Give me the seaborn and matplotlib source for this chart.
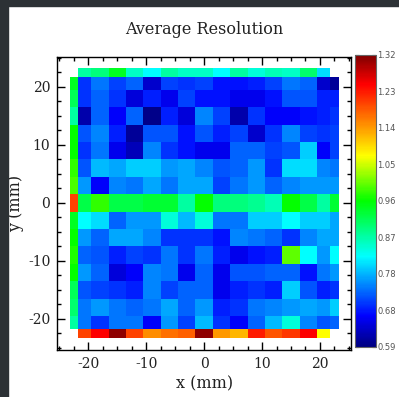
import numpy as np
import matplotlib
matplotlib.use("Agg")
import matplotlib.pyplot as plt
from matplotlib.colors import LinearSegmentedColormap
from matplotlib.ticker import MultipleLocator, FixedLocator
from matplotlib.patches import Rectangle
import seaborn as sns

# bin centres (mm) of the inner 15x15 grid
x_mm = [-21, -18, -15, -12, -9, -6, -3, 0, 3, 6, 9, 12, 15, 18, 21]
y_mm = [21, 18, 15, 12, 9, 6, 3, 0, -3, -6, -9, -12, -15, -18, -21]

# average resolution, inner grid, top row (y=21) first
res_grid = [
    [0.70, 0.74, 0.71, 0.73, 0.64, 0.71, 0.70, 0.71, 0.68, 0.68, 0.69, 0.71, 0.74, 0.73, 0.64],
    [0.70, 0.73, 0.70, 0.65, 0.69, 0.66, 0.71, 0.68, 0.68, 0.66, 0.66, 0.68, 0.72, 0.72, 0.69],
    [0.62, 0.73, 0.67, 0.73, 0.60, 0.69, 0.65, 0.75, 0.71, 0.62, 0.70, 0.67, 0.67, 0.68, 0.69],
    [0.72, 0.75, 0.69, 0.61, 0.72, 0.72, 0.68, 0.72, 0.69, 0.71, 0.64, 0.70, 0.75, 0.71, 0.70],
    [0.70, 0.74, 0.66, 0.63, 0.75, 0.70, 0.68, 0.66, 0.66, 0.73, 0.73, 0.71, 0.72, 0.79, 0.67],
    [0.72, 0.78, 0.77, 0.79, 0.79, 0.76, 0.77, 0.75, 0.72, 0.73, 0.76, 0.70, 0.80, 0.80, 0.75],
    [0.76, 0.67, 0.75, 0.74, 0.77, 0.74, 0.77, 0.77, 0.71, 0.74, 0.76, 0.73, 0.75, 0.76, 0.76],
    [0.92, 0.98, 0.92, 0.92, 0.93, 0.93, 0.87, 0.96, 0.89, 0.89, 0.88, 0.86, 0.96, 0.92, 0.87],
    [0.82, 0.80, 0.73, 0.76, 0.76, 0.84, 0.78, 0.84, 0.74, 0.74, 0.79, 0.79, 0.82, 0.79, 0.79],
    [0.76, 0.73, 0.77, 0.77, 0.75, 0.70, 0.70, 0.70, 0.68, 0.75, 0.74, 0.73, 0.70, 0.75, 0.77],
    [0.73, 0.72, 0.69, 0.71, 0.70, 0.74, 0.70, 0.74, 0.69, 0.66, 0.68, 0.69, 1.00, 0.82, 0.76],
    [0.76, 0.73, 0.65, 0.67, 0.75, 0.74, 0.66, 0.73, 0.66, 0.72, 0.72, 0.73, 0.73, 0.68, 0.74],
    [0.72, 0.71, 0.70, 0.69, 0.75, 0.71, 0.73, 0.73, 0.66, 0.69, 0.70, 0.69, 0.79, 0.72, 0.69],
    [0.74, 0.76, 0.74, 0.73, 0.74, 0.77, 0.73, 0.76, 0.69, 0.70, 0.74, 0.75, 0.76, 0.77, 0.76],
    [0.74, 0.70, 0.74, 0.74, 0.67, 0.76, 0.71, 0.78, 0.70, 0.67, 0.73, 0.78, 0.84, 0.75, 0.72],
]

# outer strips
res_top = [0.87, 0.89, 0.94, 0.85, 0.82, 0.87, 0.85, 0.85, 0.82, 0.87, 0.84, 0.86, 0.85, 0.90, 0.80]
res_bottom = [1.20, 1.25, 1.31, 1.20, 1.15, 1.17, 1.18, 1.31, 1.14, 1.12, 1.23, 1.19, 1.21, 1.25, 1.07]
res_left = [0.94, 0.91, 0.87, 0.96, 0.96, 0.98, 0.99, 1.20, 0.94, 0.96, 0.97, 0.96, 0.91, 0.90, 0.87]
res_right = [0.61, 0.69, 0.70, 0.71, 0.71, 0.74, 0.76, 0.93, 0.77, 0.77, 0.82, 0.76, 0.70, 0.79, 0.73]

vmin, vmax = 0.594, 1.321

# assemble 17x17 map, strips around the inner grid
n = len(x_mm)
full = np.full((n + 2, n + 2), np.nan)
full[1:-1, 1:-1] = res_grid
full[0, 1:-1] = res_top
full[-1, 1:-1] = res_bottom
full[1:-1, 0] = res_left
full[1:-1, -1] = res_right
full = np.ma.masked_invalid(full)

# cell edges: midpoints between centres, outer cells clipped, plus the strips
mids = (np.array(x_mm[:-1]) + np.array(x_mm[1:])) / 2
x_edges = np.concatenate([[-23.2, -21.75], mids, [21.75, 23.2]])
y_edges = x_edges[::-1]

cmap = LinearSegmentedColormap.from_list("res", [
    (0.0, "#000080"), (0.105, "#0000ff"), (0.31, "#00ffff"), (0.5, "#00ff00"),
    (0.655, "#ffff00"), (0.9, "#ff0000"), (1.0, "#800000")])

sns.set_theme(style="ticks")
plt.rcParams["font.family"] = ["DejaVu Serif"]
plt.rcParams["axes.unicode_minus"] = False

fig = plt.figure(figsize=(3.99, 3.97), dpi=100)
fig.patch.set_facecolor("white")
ax = fig.add_axes([0.1436, 0.1184, 0.736, 0.7388])
cax = fig.add_axes([0.8897, 0.126, 0.0526, 0.7355])

mesh = ax.pcolormesh(x_edges, y_edges, full, cmap=cmap, vmin=vmin, vmax=vmax)

ax.set_xlim(-25.35, 25.35)
ax.set_ylim(-25.35, 25.2)
ax.set_facecolor("white")
ax.xaxis.set_major_locator(MultipleLocator(10))
ax.yaxis.set_major_locator(MultipleLocator(10))
ax.xaxis.set_minor_locator(MultipleLocator(2.5))
ax.yaxis.set_minor_locator(MultipleLocator(2.5))
ax.tick_params(which="both", direction="in", top=True, right=True,
               color="black", width=1, labelsize=10, labelcolor="#222222")
ax.tick_params(which="major", length=6, pad=5)
ax.tick_params(which="minor", length=3)
for sp in ax.spines.values():
    sp.set_color("black")
    sp.set_linewidth(1)

ax.set_title("Average Resolution", fontsize=11.5, pad=16, color="#222222")
ax.set_xlabel("x (mm)", fontsize=11.5, labelpad=3, color="#222222")
ax.set_ylabel("y (mm)", fontsize=11.5, labelpad=3, color="#222222")

cb = fig.colorbar(mesh, cax=cax, ticks=np.linspace(vmin, vmax, 9), format="%.2f")
cax.yaxis.set_minor_locator(FixedLocator(np.linspace(vmin, vmax, 21)))
cax.tick_params(which="both", direction="in", left=True, right=True,
                length=3, width=0.8, color="black", labelsize=6,
                labelcolor="#555555", pad=1)
for t in cax.get_yticklabels():
    t.set_fontfamily("DejaVu Sans")
cb.outline.set_edgecolor("#666666")
cb.outline.set_linewidth(0.8)

# dark screenshot border on the left and top
fig.add_artist(Rectangle((0, 0), 8 / 399, 1, transform=fig.transFigure,
                         color="#2c3135", zorder=10))
fig.add_artist(Rectangle((0, 1 - 6 / 397), 1, 6 / 397, transform=fig.transFigure,
                         color="#2c3135", zorder=10))

fig.savefig("out.png", dpi=100)
